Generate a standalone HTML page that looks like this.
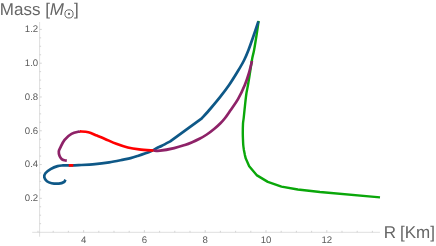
<!DOCTYPE html>
<html><head><meta charset="utf-8"><style>
html,body{margin:0;padding:0;background:#fff;}
body{width:436px;height:246px;overflow:hidden;position:relative;font-family:"Liberation Sans",sans-serif;}
</style></head><body>
<svg width="436" height="246" viewBox="0 0 436 246" style="position:absolute;left:0;top:0;will-change:transform">
<rect x="0" y="0" width="436" height="246" fill="#ffffff"/>
<g stroke="#c8c8c8" stroke-width="0.6" fill="none">
<line x1="32.2" y1="232.3" x2="379.9" y2="232.3"/>
<line x1="39.6" y1="22" x2="39.6" y2="236.7"/>
</g>
<g stroke="#c4c4c4" stroke-width="0.7" fill="none">
<line x1="38.00" y1="232.3" x2="38.00" y2="230.80"/>
<line x1="53.20" y1="232.3" x2="53.20" y2="230.80"/>
<line x1="68.40" y1="232.3" x2="68.40" y2="230.80"/>
<line x1="83.60" y1="232.3" x2="83.60" y2="230.10"/>
<line x1="98.80" y1="232.3" x2="98.80" y2="230.80"/>
<line x1="114.00" y1="232.3" x2="114.00" y2="230.80"/>
<line x1="129.20" y1="232.3" x2="129.20" y2="230.80"/>
<line x1="144.40" y1="232.3" x2="144.40" y2="230.10"/>
<line x1="159.60" y1="232.3" x2="159.60" y2="230.80"/>
<line x1="174.80" y1="232.3" x2="174.80" y2="230.80"/>
<line x1="190.00" y1="232.3" x2="190.00" y2="230.80"/>
<line x1="205.20" y1="232.3" x2="205.20" y2="230.10"/>
<line x1="220.40" y1="232.3" x2="220.40" y2="230.80"/>
<line x1="235.60" y1="232.3" x2="235.60" y2="230.80"/>
<line x1="250.80" y1="232.3" x2="250.80" y2="230.80"/>
<line x1="266.00" y1="232.3" x2="266.00" y2="230.10"/>
<line x1="281.20" y1="232.3" x2="281.20" y2="230.80"/>
<line x1="296.40" y1="232.3" x2="296.40" y2="230.80"/>
<line x1="311.60" y1="232.3" x2="311.60" y2="230.80"/>
<line x1="326.80" y1="232.3" x2="326.80" y2="230.10"/>
<line x1="342.00" y1="232.3" x2="342.00" y2="230.80"/>
<line x1="357.20" y1="232.3" x2="357.20" y2="230.80"/>
<line x1="372.40" y1="232.3" x2="372.40" y2="230.80"/>
<line x1="39.6" y1="223.66" x2="41.10" y2="223.66"/>
<line x1="39.6" y1="215.21" x2="41.10" y2="215.21"/>
<line x1="39.6" y1="206.76" x2="41.10" y2="206.76"/>
<line x1="39.6" y1="198.32" x2="41.80" y2="198.32"/>
<line x1="39.6" y1="189.88" x2="41.10" y2="189.88"/>
<line x1="39.6" y1="181.43" x2="41.10" y2="181.43"/>
<line x1="39.6" y1="172.98" x2="41.10" y2="172.98"/>
<line x1="39.6" y1="164.54" x2="41.80" y2="164.54"/>
<line x1="39.6" y1="156.09" x2="41.10" y2="156.09"/>
<line x1="39.6" y1="147.65" x2="41.10" y2="147.65"/>
<line x1="39.6" y1="139.20" x2="41.10" y2="139.20"/>
<line x1="39.6" y1="130.76" x2="41.80" y2="130.76"/>
<line x1="39.6" y1="122.31" x2="41.10" y2="122.31"/>
<line x1="39.6" y1="113.87" x2="41.10" y2="113.87"/>
<line x1="39.6" y1="105.42" x2="41.10" y2="105.42"/>
<line x1="39.6" y1="96.98" x2="41.80" y2="96.98"/>
<line x1="39.6" y1="88.53" x2="41.10" y2="88.53"/>
<line x1="39.6" y1="80.09" x2="41.10" y2="80.09"/>
<line x1="39.6" y1="71.64" x2="41.10" y2="71.64"/>
<line x1="39.6" y1="63.20" x2="41.80" y2="63.20"/>
<line x1="39.6" y1="54.75" x2="41.10" y2="54.75"/>
<line x1="39.6" y1="46.31" x2="41.10" y2="46.31"/>
<line x1="39.6" y1="37.86" x2="41.10" y2="37.86"/>
<line x1="39.6" y1="29.42" x2="41.80" y2="29.42"/>
</g>
<g fill="none" stroke-width="2.7" stroke-linejoin="round" stroke-linecap="butt">
<path stroke="#0aa70a" stroke-width="2.4" d="M258.60,20.90 C258.30,23.00 257.55,28.65 256.80,33.50 C256.05,38.35 254.87,45.83 254.10,50.00 C253.33,54.17 252.85,54.95 252.20,58.50 C251.55,62.05 250.90,66.88 250.20,71.30 C249.50,75.72 248.63,81.30 248.00,85.00 C247.37,88.70 246.92,89.95 246.40,93.50 C245.88,97.05 245.35,102.22 244.90,106.30 C244.45,110.38 244.02,115.13 243.70,118.00 C243.38,120.87 243.15,120.92 243.00,123.50 C242.85,126.08 242.80,130.75 242.80,133.50 C242.80,136.25 242.93,138.08 243.00,140.00 C243.07,141.92 243.10,143.33 243.25,145.00 C243.40,146.67 243.79,149.17 243.90,150.00 L244.90,155.10 L245.80,158.60 L249.20,166.30 L256.60,175.10 L267.80,181.90 L281.50,186.60 L297.80,189.50 L320.00,192.00 L380.00,197.40"/>
<path stroke="#0e5887" d="M65.40,179.60 C65.17,180.00 65.10,181.33 64.00,182.00 C62.90,182.67 60.87,183.40 58.80,183.60 C56.73,183.80 53.58,183.60 51.60,183.20 C49.62,182.80 48.12,182.18 46.90,181.20 C45.68,180.22 44.55,178.63 44.30,177.30 C44.05,175.97 44.35,174.57 45.40,173.20 C46.45,171.83 48.57,170.28 50.60,169.10 C52.63,167.92 55.53,166.71 57.60,166.10 C59.67,165.49 61.15,165.57 63.00,165.45 C64.85,165.33 66.08,165.46 68.70,165.40 C71.32,165.34 74.32,165.30 78.70,165.10 C83.08,164.90 89.92,164.66 95.00,164.20 C100.08,163.74 104.47,163.12 109.20,162.35 C113.93,161.58 119.83,160.31 123.40,159.60 C126.97,158.89 128.22,158.70 130.60,158.10 C132.98,157.50 135.33,156.75 137.70,156.00 C140.07,155.25 142.43,154.48 144.80,153.60 C147.17,152.72 149.87,151.63 151.90,150.70 C153.93,149.77 155.33,148.83 157.00,148.00 C158.67,147.17 159.70,146.80 161.90,145.70 C164.10,144.60 168.82,142.12 170.20,141.40 L201.80,118.40 C203.27,116.75 207.47,112.17 210.60,108.50 C213.73,104.83 217.52,100.32 220.60,96.40 C223.68,92.48 226.23,89.18 229.10,85.00 C231.97,80.82 235.28,75.47 237.80,71.30 C240.32,67.13 242.42,63.55 244.20,60.00 C245.98,56.45 246.97,53.95 248.50,50.00 C250.03,46.05 251.75,41.07 253.40,36.30 C255.05,31.53 257.57,23.88 258.40,21.40"/>
<path stroke="#8e2268" d="M66.80,160.60 C66.42,160.55 65.37,160.58 64.50,160.30 C63.63,160.02 62.43,159.67 61.60,158.90 C60.77,158.13 59.97,156.95 59.50,155.70 C59.03,154.45 58.67,152.75 58.80,151.40 C58.93,150.05 59.33,149.53 60.30,147.60 C61.27,145.67 62.73,142.08 64.60,139.80 C66.47,137.52 68.95,135.30 71.50,133.90 C74.05,132.50 78.50,131.82 79.90,131.40"/>
<path stroke="#8e2268" d="M153.60,150.50 C154.67,150.53 156.57,151.10 160.00,150.70 C163.43,150.30 170.05,149.05 174.20,148.10 C178.35,147.15 181.90,145.98 184.90,145.00 C187.90,144.02 189.77,143.23 192.20,142.20 C194.63,141.17 197.07,140.08 199.50,138.80 C201.93,137.52 204.37,136.13 206.80,134.50 C209.23,132.87 211.87,130.83 214.10,129.00 C216.33,127.17 218.37,125.33 220.20,123.50 C222.03,121.67 223.42,120.15 225.10,118.00 C226.78,115.85 228.15,113.73 230.30,110.60 C232.45,107.47 235.58,103.47 238.00,99.20 C240.42,94.93 242.97,89.40 244.80,85.00 C246.63,80.60 247.80,76.80 249.00,72.80 C250.20,68.80 251.50,62.97 252.00,61.00"/>
<path stroke="#ff0000" d="M79.90,131.40 C81.32,131.53 85.57,131.50 88.40,132.20 C91.23,132.90 94.13,134.48 96.90,135.60 C99.67,136.72 101.77,137.53 105.00,138.90 C108.23,140.27 112.50,142.37 116.30,143.80 C120.10,145.23 124.00,146.57 127.80,147.50 C131.60,148.43 134.80,148.90 139.10,149.40 C143.40,149.90 151.18,150.32 153.60,150.50"/>
<path stroke="#ff0000" d="M68.70,165.40 C69.47,165.38 72.53,165.32 73.30,165.30"/>
</g>
<g font-family="Liberation Sans, sans-serif" font-size="9.6" fill="#5c5c5c" text-rendering="geometricPrecision">
<text transform="translate(83.6,242.6) scale(1,1)" text-anchor="middle">4</text>
<text transform="translate(144.4,242.6) scale(1,1)" text-anchor="middle">6</text>
<text transform="translate(205.2,242.6) scale(1,1)" text-anchor="middle">8</text>
<text transform="translate(266.0,242.6) scale(1,1)" text-anchor="middle">10</text>
<text transform="translate(326.8,242.6) scale(1,1)" text-anchor="middle">12</text>
<text transform="translate(38.2,201.2) scale(1,1)" text-anchor="end">0.2</text>
<text transform="translate(38.2,167.4) scale(1,1)" text-anchor="end">0.4</text>
<text transform="translate(38.2,133.7) scale(1,1)" text-anchor="end">0.6</text>
<text transform="translate(38.2,99.9) scale(1,1)" text-anchor="end">0.8</text>
<text transform="translate(38.2,66.1) scale(1,1)" text-anchor="end">1.0</text>
<text transform="translate(38.2,32.3) scale(1,1)" text-anchor="end">1.2</text>
</g>
<g font-family="Liberation Sans, sans-serif" font-size="17" fill="#666666" text-rendering="geometricPrecision">
<text x="383.8" y="238" style="word-spacing:-0.8px">R [Km]</text>
<text x="-0.2" y="14.5">Mass [<tspan font-style="italic">M</tspan></text>
<text x="73.9" y="14.5">]</text>
</g>
<circle cx="69.0" cy="13.9" r="4.1" fill="none" stroke="#666" stroke-width="1"/><circle cx="69.0" cy="13.9" r="1.1" fill="#666"/>
</svg>
</body></html>
